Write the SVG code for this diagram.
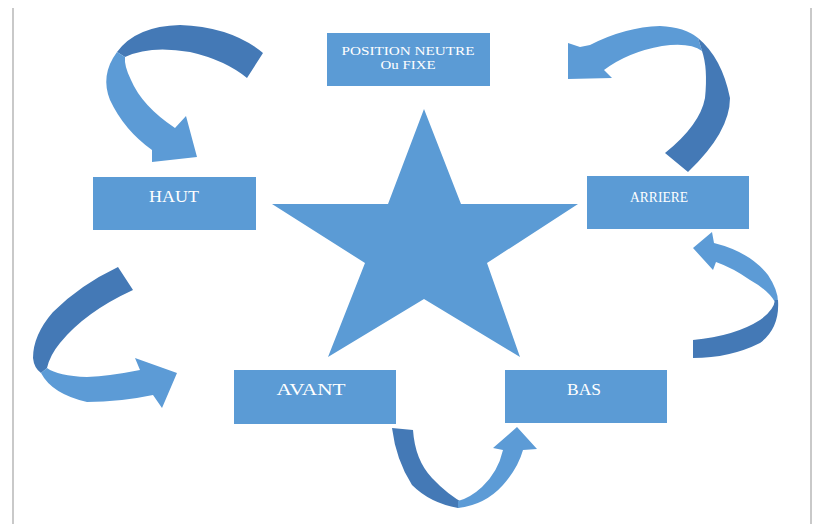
<svg xmlns="http://www.w3.org/2000/svg" width="819" height="524" viewBox="0 0 819 524">
<style>
.box{fill:#5B9BD5}
.lt{fill:#5C9BD6}
.dk{fill:#4479B6}
.lbl{fill:#FFFFFF;font-family:"Liberation Serif","Times New Roman",serif;text-anchor:middle}
.frame{stroke:#C9C9C9;stroke-width:2;fill:none}
</style>
<rect width="819" height="524" fill="#FFFFFF"/>
<line class="frame" x1="13" y1="8" x2="13" y2="524"/>
<line class="frame" x1="811" y1="8" x2="811" y2="524"/>

<g id="star">
<polygon class="box" points="424,109 461,204 578,204 487,263 520,357 424,299 328,357 365,263 272,204 388,204"/>
</g>

<g id="node-position">
<rect class="box" x="327" y="33" width="163" height="53"/>
<text class="lbl" x="408" y="55" font-size="13" textLength="133" lengthAdjust="spacingAndGlyphs">POSITION NEUTRE</text>
<text class="lbl" x="408" y="69" font-size="13" textLength="55" lengthAdjust="spacingAndGlyphs">Ou FIXE</text>
</g>
<g id="node-haut">
<rect class="box" x="93" y="177" width="163" height="53"/>
<text class="lbl" x="174" y="202" font-size="17" textLength="50" lengthAdjust="spacingAndGlyphs">HAUT</text>
</g>
<g id="node-arriere">
<rect class="box" x="587" y="176" width="162" height="53"/>
<text class="lbl" x="659" y="202" font-size="15" textLength="58" lengthAdjust="spacingAndGlyphs">ARRIERE</text>
</g>
<g id="node-avant">
<rect class="box" x="234" y="370" width="162" height="54"/>
<text class="lbl" x="311" y="395" font-size="17" textLength="69" lengthAdjust="spacingAndGlyphs">AVANT</text>
</g>
<g id="node-bas">
<rect class="box" x="505" y="370" width="162" height="53"/>
<text class="lbl" x="584" y="395" font-size="17" textLength="34" lengthAdjust="spacingAndGlyphs">BAS</text>
</g>

<g id="connectors">
<!-- top-left: POSITION -> HAUT -->
<g id="arrow-position-haut">
<path class="dk" d="M263,53 Q232,27 180,25 Q136,26 117,52 L125,57 Q150,45 190,52 Q225,60 247,78 Z"/>
<path class="lt" d="M117,52 Q100,75 110,100 Q124,130 152,150 L152,162 L197,157 L186,116 L175,128 Q142,106 131,80 Q124,66 125,57 Z"/>
</g>
<!-- top-right: ARRIERE -> POSITION -->
<g id="arrow-arriere-position">
<path class="lt" d="M568,43 L568,79 L612,78 L604,70 Q628,52 662,46 Q690,42 702,51 L698,38 Q685,27 660,26 Q625,27 590,45 L580,47 Z"/>
<path class="dk" d="M698,38 Q722,58 730,98 Q730,132 688,172 L665,153 Q700,125 705,98 Q708,68 702,51 Z"/>
</g>
<!-- left: HAUT -> AVANT -->
<g id="arrow-haut-avant">
<path class="dk" d="M118,267 Q80,285 53,312 Q33,335 33,358 Q34,368 41,373 L47,368 Q50,355 60,343 Q85,312 133,290 Z"/>
<path class="lt" d="M41,373 Q52,394 87,402 Q120,402 153,395 L162,408 L177,373 L135,358 L140,370 Q110,376 87,377 Q58,376 47,368 Z"/>
</g>
<!-- right: BAS -> ARRIERE -->
<g id="arrow-bas-arriere">
<path class="lt" d="M693,248 L712,232 L714,243 Q750,252 768,275 Q778,290 778,302 L775,302 Q768,290 750,280 Q733,268 716,262 L713,270 Z"/>
<path class="dk" d="M778,300 Q780,328 760,343 Q730,358 693,358 L693,340 Q735,336 760,320 Q774,310 775,300 Z"/>
</g>
<!-- bottom: AVANT -> BAS -->
<g id="arrow-avant-bas">
<path class="dk" d="M392,428 L413,430 Q415,460 432,478 Q448,495 465,504 L458,508 Q430,503 412,485 Q396,460 392,428 Z"/>
<path class="lt" d="M458,508 Q485,505 503,485 Q518,468 523,450 L537,449 L517,427 L493,448 L503,450 Q498,472 482,487 Q470,498 458,501 Z"/>
</g>
</g>
</svg>
